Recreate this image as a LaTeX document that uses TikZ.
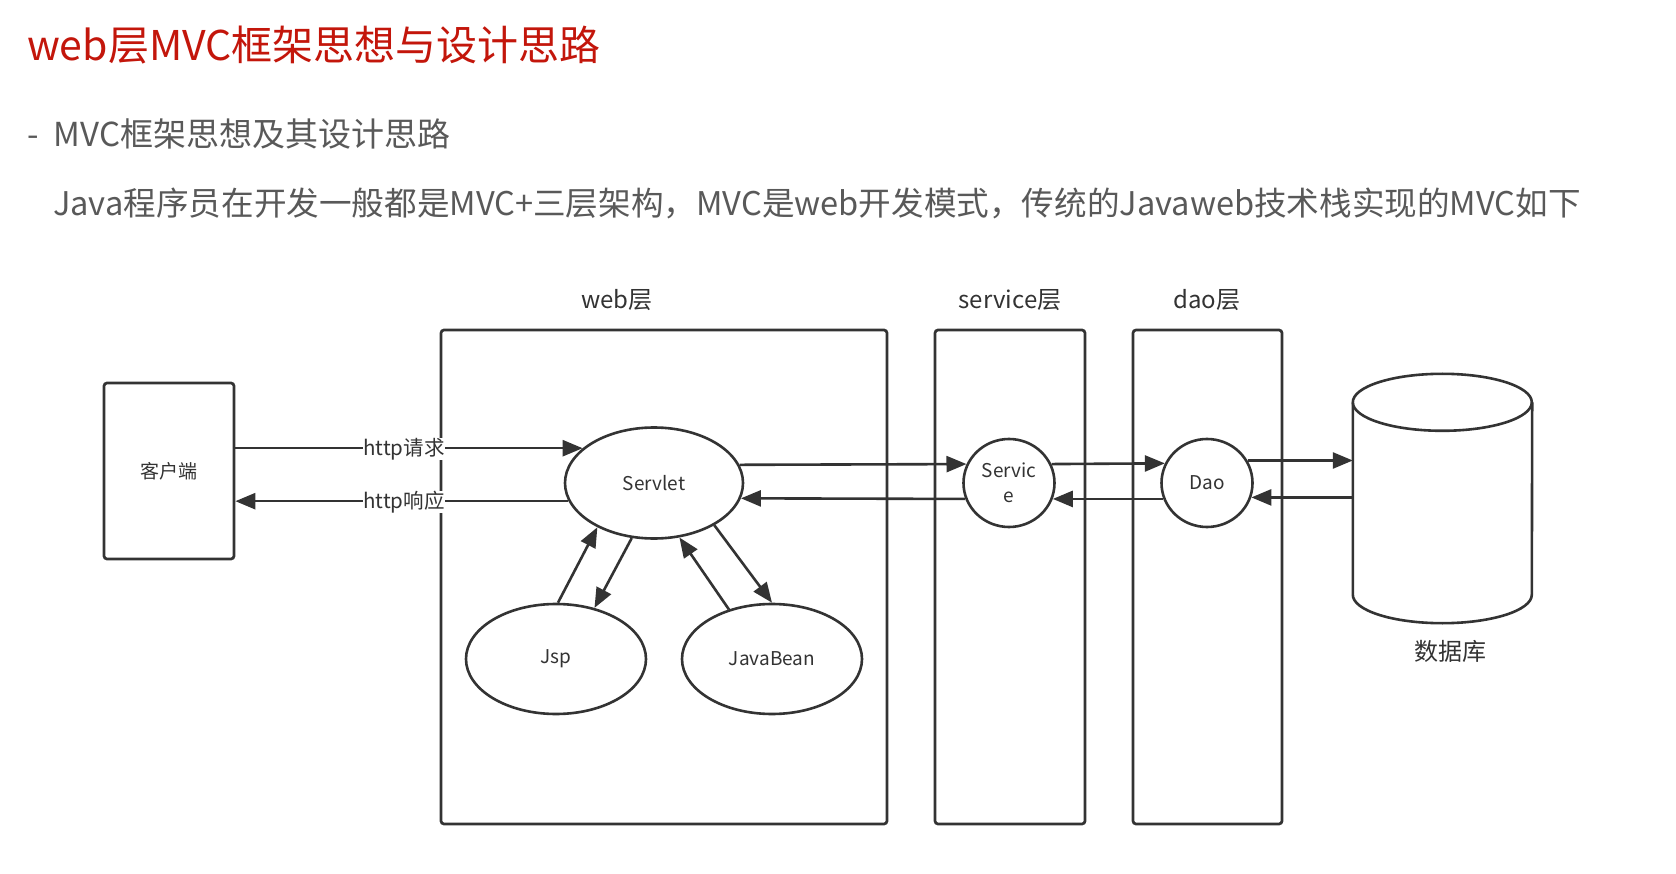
\documentclass[tikz,border=0pt]{standalone}
\usepackage{fontspec}
\setmainfont{Noto Sans CJK SC}
\usetikzlibrary{arrows.meta,calc,shapes.geometric}
\definecolor{ttl}{HTML}{C3160B}
\definecolor{txt}{HTML}{595959}
\definecolor{ln}{HTML}{333333}
\begin{document}
\begin{tikzpicture}[x=1pt,y=-1pt,
  lbl/.style={text=ln,font=\fontsize{19}{23}\selectfont,inner sep=0pt},
  hdr/.style={text=ln,font=\fontsize{24}{28}\selectfont,inner sep=0pt},
  box/.style={draw=ln,line width=2.7pt,rounded corners=3pt,inner sep=0pt},
  ell/.style={draw=ln,line width=2.6pt,ellipse,inner sep=0pt,text=ln,font=\fontsize{19}{23}\selectfont},
  arr/.style={draw=ln,line width=2.6pt,-{Triangle[length=20pt,width=16pt]}},
  tag/.style={text=ln,font=\fontsize{20.5}{24}\selectfont,inner sep=0pt,fill=white}]
\fill[white] (0,0) rectangle (1676,874);
\useasboundingbox (0,0) rectangle (1676,874);
% header texts
\node[anchor=west,inner sep=0pt,text=ttl,font=\fontsize{41}{48}\selectfont] (title) at (27,45) {web层MVC框架思想与设计思路};
\node[anchor=west,inner sep=0pt,text=txt,font=\fontsize{33}{38}\selectfont] (sub) at (27,134) {-\hspace{15pt}MVC框架思想及其设计思路};
\node[anchor=west,inner sep=0pt,text=txt,font=\fontsize{32.6}{38}\selectfont] (desc) at (53,203) {Java程序员在开发一般都是MVC+三层架构，MVC是web开发模式，传统的Javaweb技术栈实现的MVC如下};
% layer boxes
\node[box,minimum width=446pt,minimum height=494pt] (web) at (664,577) {};
\node[box,minimum width=150pt,minimum height=494pt] (svc) at (1010,577) {};
\node[box,minimum width=149pt,minimum height=494pt] (dao) at (1207.5,577) {};
\node[hdr] (webl) at (617,300) {web层};
\node[hdr] (svcl) at (1010,300) {service层};
\node[hdr] (daol) at (1207,300) {dao层};
% client
\node[box,minimum width=130pt,minimum height=176pt,lbl] (client) at (169,471) {客户端};
% ellipses
\node[ell,minimum width=178pt,minimum height=111pt] (servlet) at (654,483) {Servlet};
\node[ell,minimum width=180pt,minimum height=110pt] (jsp) at (556,659) {Jsp};
\node[ell,minimum width=180pt,minimum height=110pt] (bean) at (772,659) {JavaBean};
\node[ell,minimum width=91pt,minimum height=88pt,align=center,font=\fontsize{19}{25}\selectfont] (service) at (1009,483) {Servic\\e};
\node[ell,minimum width=91pt,minimum height=88pt] (daon) at (1207,483) {Dao};
% database
\node[minimum width=179pt,minimum height=249pt,inner sep=0pt] (db) at (1442.5,498.5) {};
\draw[ln,line width=2.6pt] (db.north west) ++(0,28.5) arc[start angle=180,end angle=-180,x radius=89.5pt,y radius=28.5pt];
\draw[ln,line width=2.6pt] ($(db.north west)+(0,28.5)$) -- ($(db.south west)+(0,-28.5)$)
  arc[start angle=180,end angle=360,x radius=89.5pt,y radius=28.5pt] -- ($(db.north east)+(0,28.5)$);
\node[hdr] (dbl) at (1450,651) {数据库};
% client <-> servlet
\draw[arr] (client.east |- servlet.154.2) -- (servlet.154.2);
\draw[arr] (servlet.192.8) -- (client.east |- servlet.192.8);
\node[tag] (req) at (404,449) {http请求};
\node[tag] (resp) at (404,502) {http响应};
% servlet <-> service
\draw[arr] (servlet.12.07) -- (service.156.4);
\draw[arr] (service.200.8) -- (servlet.-10.6);
% service <-> dao
\draw[arr] (service.24.97) -- (daon.155.03);
\draw[arr] (daon.200.8) -- (service.-20.8);
% dao <-> db
\draw[arr] (daon.29.26) -- (db.180 |- daon.29.26);
\draw[arr] (db.180 |- daon.-18.1) -- (daon.-18.1);
% servlet <-> jsp / javabean
\draw[arr] (jsp.88) -- (servlet.-142.8);
\draw[arr] (servlet.-112) -- (jsp.53.8);
\draw[arr] (bean.131.3) -- (servlet.-65.1);
\draw[arr] (servlet.-35.8) -- (bean.90);
\end{tikzpicture}
\end{document}
